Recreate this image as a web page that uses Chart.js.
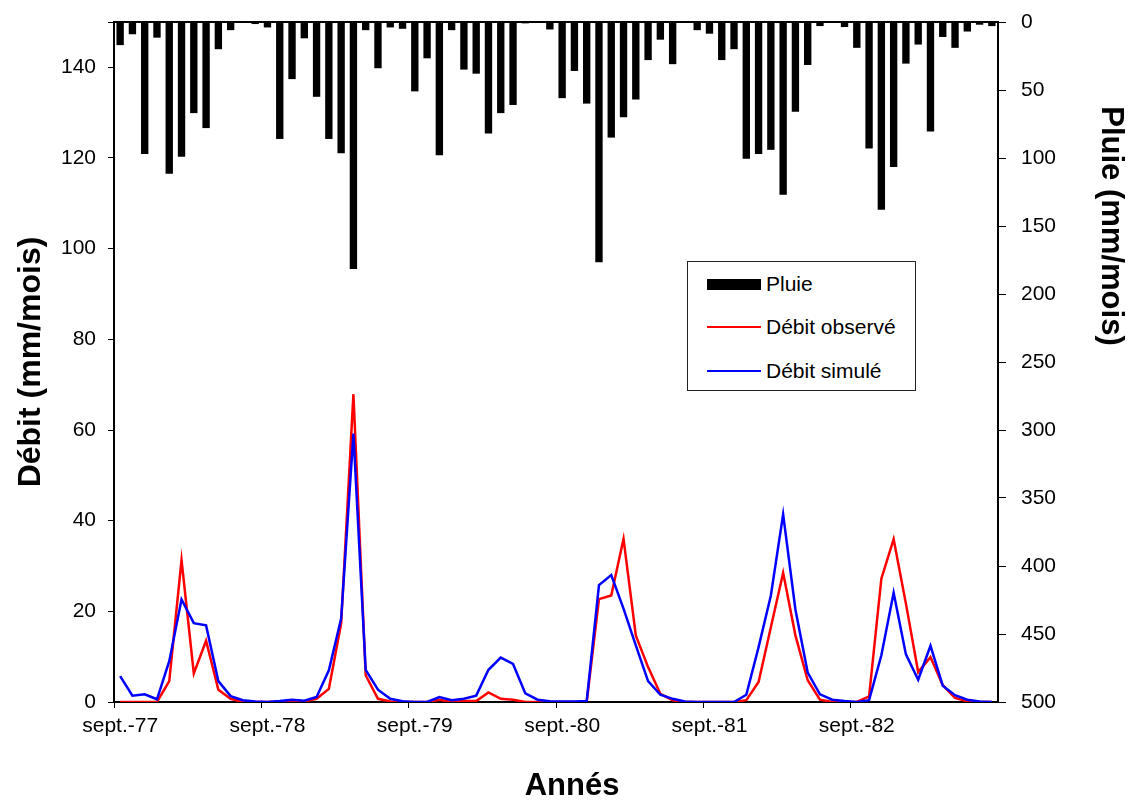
<!DOCTYPE html>
<html>
<head>
<meta charset="utf-8">
<script src="https://cdn.jsdelivr.net/npm/chart.js@4"></script>
<style>
  body { margin: 0; background: #fff; }
  #wrap { position: relative; width: 1130px; height: 800px; }
  .legend {
    position: absolute; left: 687px; top: 261px; width: 229px; height: 130px;
    border: 1px solid #222; background: #fff; box-sizing: border-box;
    font-family: 'Liberation Sans', Arial, sans-serif; font-size: 21px; color: #000;
  }
  .row { position: absolute; left: 19px; height: 24px; display: flex; align-items: center; }
  .sw { width: 54px; margin-right: 5px; }
</style>
</head>
<body>
<div id="wrap">
  <canvas id="chart" width="1130" height="800"></canvas>
  <div class="legend">
    <div class="row" style="top:10px"><div class="sw" style="height:11px;background:#000"></div>Pluie</div>
    <div class="row" style="top:53px"><div class="sw" style="height:2px;background:#ff0000"></div>Débit observé</div>
    <div class="row" style="top:97px"><div class="sw" style="height:2px;background:#0000ff"></div>Débit simulé</div>
  </div>
</div>
<script>
const MONTHS = ['sept.', 'oct.', 'nov.', 'déc.', 'janv.', 'févr.', 'mars', 'avr.', 'mai', 'juin', 'juil.', 'août']
const YEARS = ['77', '78', '79', '80', '81', '82', '83']

// pluie mensuelle (mm), sept. 77 -> août 83
const pluie = [
  17, 9, 97, 11.5, 111.5, 99, 67, 78, 20, 6, 0, 1.5,
  4, 86, 42, 12, 55, 86, 96.5, 181.6, 6, 34, 4, 5,
  51, 26.7, 98, 6, 35, 38, 82, 67, 61, 1, 0, 5.5,
  56, 36, 60, 176.7, 85, 70, 57, 28, 13, 31, 0, 6,
  8.6, 28, 20, 100.5, 97, 94, 127, 66, 31.6, 3, 0, 3.7,
  19, 93, 138, 106.6, 30.6, 16.6, 80.6, 11, 19, 7, 2, 3
]

const debitObserve = [
  0, 0, 0, 0, 4.6, 31.3, 6.3, 13.5, 2.7, 0.7, 0, 0,
  0, 0.1, 0.2, 0.1, 0.7, 2.9, 17.3, 67.9, 5.9, 0.7, 0.1, 0,
  0, 0, 0.5, 0, 0.2, 0.2, 2.1, 0.7, 0.5, 0, 0, 0,
  0, 0, 0, 22.7, 23.5, 36, 14.7, 7.7, 1.8, 0.4, 0, 0,
  0, 0, 0, 0.4, 4.4, 16.5, 28.5, 14.7, 4.8, 0.5, 0, 0,
  0, 1.25, 27.2, 35.9, 21.7, 6.6, 9.9, 3.7, 0.9, 0.15, 0, 0
]

const debitSimule = [
  5.7, 1.4, 1.7, 0.6, 9, 22.6, 17.4, 16.9, 4.6, 1.3, 0.4, 0.1,
  0, 0.2, 0.5, 0.3, 1.1, 7, 18.4, 59.2, 7.1, 2.7, 0.7, 0.15,
  0, 0, 1.1, 0.4, 0.7, 1.4, 7.1, 9.8, 8.4, 1.9, 0.5, 0.15,
  0.1, 0.1, 0.2, 25.8, 28, 20.6, 12.5, 4.6, 1.6, 0.7, 0.1, 0,
  0, 0, 0, 1.6, 12.1, 23.5, 41.4, 20.4, 6.5, 1.7, 0.5, 0.2,
  0, 0.4, 10.3, 24.1, 10.5, 4.9, 12.4, 3.6, 1.5, 0.5, 0.1, 0
]

// sept. 77 ... août 83
const labels = []
for (let i = 0; i < pluie.length; i++) {
  const m = i % 12
  const y = YEARS[Math.floor((i + 8) / 12)]
  labels.push(MONTHS[m] + '-' + y)
}

const FONT = "'Liberation Sans', Arial, sans-serif"
Chart.defaults.font.family = FONT
Chart.defaults.font.size = 21
Chart.defaults.color = '#000'

// cadre haut + titres placés comme dans l'original
const extras = {
  id: 'extras',
  afterDraw(chart) {
    const { ctx, chartArea } = chart
    ctx.save()
    ctx.strokeStyle = '#000'
    ctx.lineWidth = 2
    ctx.beginPath()
    ctx.moveTo(chartArea.left, chartArea.top)
    ctx.lineTo(chartArea.right, chartArea.top)
    ctx.stroke()

    ctx.fillStyle = '#000'
    ctx.font = 'bold 31px ' + FONT
    ctx.textAlign = 'center'
    ctx.textBaseline = 'middle'
    ctx.fillText('Annés', 572, 786)

    ctx.translate(1111, 226)
    ctx.rotate(Math.PI / 2)
    ctx.fillText('Pluie (mm/mois)', 0, 0)
    ctx.restore()
  }
}

// largeur fixe des axes, sans marge auto en haut/bas
const fixY = (w) => (s) => {
  s.width = w
  s.paddingTop = 0
  s.paddingBottom = 0
}

new Chart(document.getElementById('chart'), {
  data: {
    labels,
    datasets: [
      {
        type: 'line',
        label: 'Débit observé',
        data: debitObserve,
        borderColor: '#ff0000',
        borderWidth: 2.5,
        pointRadius: 0,
        yAxisID: 'y',
        order: 1
      },
      {
        type: 'line',
        label: 'Débit simulé',
        data: debitSimule,
        borderColor: '#0000ff',
        borderWidth: 2.5,
        pointRadius: 0,
        yAxisID: 'y',
        order: 0
      },
      {
        type: 'bar',
        label: 'Pluie',
        data: pluie,
        backgroundColor: '#000',
        barPercentage: 0.6,
        categoryPercentage: 1,
        yAxisID: 'y2',
        order: 2
      }
    ]
  },
  options: {
    responsive: false,
    animation: false,
    layout: { padding: { top: 22 } },
    plugins: {
      legend: { display: false },
      tooltip: { enabled: false }
    },
    scales: {
      x: {
        offset: true,
        afterFit: (s) => { s.height = 98 },
        grid: {
          offset: true,
          drawOnChartArea: false,
          tickLength: 6,
          tickColor: (c) => (c.index % 12 === 0 ? '#000' : 'rgba(0,0,0,0)')
        },
        border: { color: '#000', width: 2 },
        ticks: {
          autoSkip: false,
          maxRotation: 0,
          minRotation: 0,
          padding: 6,
          callback: (v, i) => (i % 12 === 0 ? labels[i] : '')
        }
      },
      y: {
        position: 'left',
        min: 0,
        max: 150,
        afterFit: fixY(114),
        grid: { drawOnChartArea: false, tickLength: 6, tickColor: '#000' },
        border: { color: '#000', width: 2 },
        ticks: {
          stepSize: 20,
          padding: 12,
          callback: (v) => (v === 150 ? '' : v)
        },
        title: {
          display: true,
          text: 'Débit (mm/mois)',
          font: { size: 32, weight: 'bold' },
          padding: { top: 12, bottom: 0 }
        }
      },
      y2: {
        position: 'right',
        reverse: true,
        min: 0,
        max: 500,
        afterFit: fixY(132),
        grid: { drawOnChartArea: false, tickLength: 8, tickColor: '#000' },
        border: { color: '#000', width: 2 },
        ticks: { stepSize: 50, padding: 15 }
      }
    }
  },
  plugins: [extras]
})
</script>
</body>
</html>
